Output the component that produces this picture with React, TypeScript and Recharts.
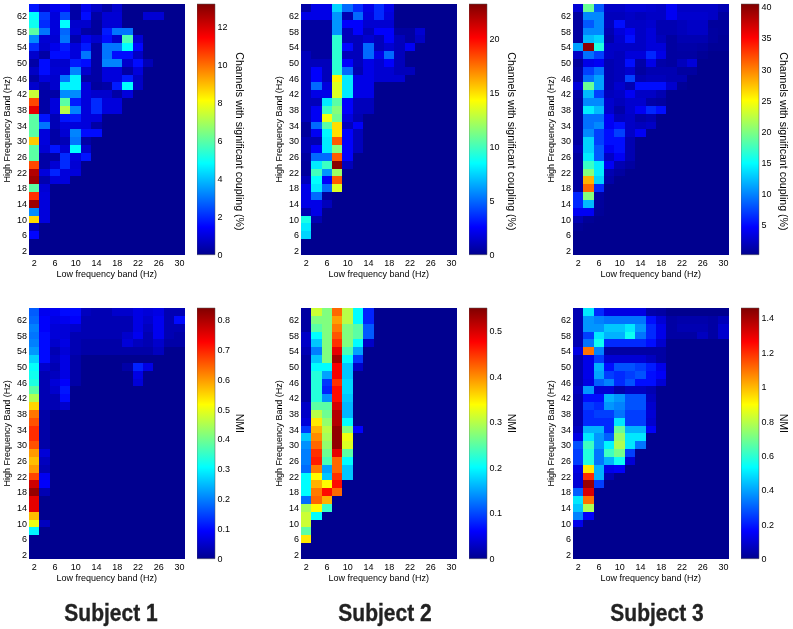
import React from 'react';
import { ScatterChart, Scatter, XAxis, YAxis, BarChart, Bar } from 'recharts';

const lowBands = [2, 4, 6, 8, 10, 12, 14, 16, 18, 20, 22, 24, 26, 28, 30];
const highBands = [64, 62, 60, 58, 56, 54, 52, 50, 48, 46, 44, 42, 40, 38, 36, 34, 32, 30, 28, 26, 24, 22, 20, 18, 16, 14, 12, 10, 8, 6, 4, 2];
const lowTicks = [2, 6, 10, 14, 18, 22, 26, 30];
const highTicks = [2, 6, 10, 14, 18, 22, 26, 30, 34, 38, 42, 46, 50, 54, 58, 62];

// rows run from 64 Hz down to 2 Hz, missing cells on the right are 0
const subject1Coupling = [
  [1.7, 0.8, 1.2, 1.5, 0.3, 1.2, 0.7, 0.3, 0.8],
  [4.8, 2.2, 1, 2.4, 0.3, 1.6, 0.3, 0.9, 0.9, 0, 0, 0.9, 0.9],
  [5, 2, 1, 4.8, 0.8, 0.8, 0.2, 0.9, 0.9],
  [6, 3, 1, 2.8, 0.9, 0.3, 0.2, 1.8, 3, 3],
  [3.3, 0.9, 0.9, 3, 0.4, 1.2, 0.8, 1.6, 0.8, 5.8, 0.9],
  [2, 0.8, 1.2, 1.8, 1, 1.8, 0.3, 3, 3, 4.8, 1.5],
  [0.8, 0.3, 1.6, 1.6, 1, 3, 0.3, 3, 1.6, 1.6, 0.7],
  [0.3, 1.6, 0.8, 0.8, 1.8, 1.6, 0.3, 3.2, 3.2, 0.8, 1.6, 0.5],
  [0.7, 1.6, 0.9, 0.9, 3.2, 0.8, 0.3, 1, 1, 0.3, 1],
  [0.3, 1, 0.8, 3, 4.7, 0.3, 0.3, 1, 1, 1.8, 0.7],
  [0.8, 0.4, 0.8, 4.7, 4.7, 1, 0.2, 0.3, 1.8, 4.8, 0.7],
  [7.4, 0.3, 0.3, 3.3, 3.3, 1, 0.8, 0.8, 0.3, 1],
  [10.5, 0.3, 1, 6, 1.8, 1, 2, 1, 1],
  [11.8, 0.3, 1, 7.2, 3.2, 1, 2, 1, 1],
  [6, 1.7, 0.5, 1.7, 1.8, 1, 1],
  [6, 3, 0.5, 1, 1, 1, 0.3],
  [6, 1, 0.3, 0.9, 3.2, 1.6, 1.6],
  [8.8, 1, 0.3, 0.5, 3, 0.3],
  [6, 0.9, 1.7, 0.9, 4.8, 0.8],
  [6, 0.3, 0.3, 2, 1, 1.7],
  [10.5, 0.3, 0.9, 2, 0.9],
  [12.5, 1, 1.9, 1, 1],
  [12.8, 0.4, 1, 1],
  [6, 0.9],
  [10.8, 1],
  [12.8, 1],
  [3.3, 1],
  [8.6, 1],
  [0.6],
  [1.5],
  [],
  [],
];

const subject2Coupling = [
  [0.5, 2, 2, 7.5, 5, 3.5, 2, 3.5, 2],
  [2, 2, 2, 6, 0.8, 5, 1.8, 3.5, 1.8],
  [0.4, 0.4, 0.4, 6, 2.5, 2.5, 1.5, 1.5, 1.5],
  [0.4, 0.4, 0.4, 6, 1, 2.5, 1, 2.5, 2.5, 0.4, 0.4, 1.5],
  [0.4, 0.4, 0.4, 9.5, 1, 1, 1.5, 1, 2.5, 1, 0.4, 1.2],
  [0.4, 0.4, 0.4, 9.5, 2.7, 1, 5, 1, 1.5, 1, 2.3],
  [1, 0.4, 0.4, 9.5, 1, 1, 5, 2, 5, 1],
  [1, 1, 1, 9.5, 2.5, 1, 2, 1.5, 2.5, 1],
  [1, 2.5, 1, 9.5, 5, 0.8, 2, 1.5, 1.5, 1, 1],
  [1, 2.5, 1, 14.5, 8, 2, 2, 1.5, 1.5, 1.5],
  [1, 5, 1.8, 13.5, 8, 2, 2],
  [1, 2, 2, 13.5, 8, 2, 2],
  [1, 1, 8, 10.5, 2.5, 1, 1],
  [1, 2.3, 9.8, 11.5, 2.5, 1, 1],
  [1, 2.3, 14, 11, 1.8, 0.8],
  [0.3, 5, 10.5, 15, 1, 2.4],
  [0.3, 2.3, 8.3, 15, 2.5, 1],
  [0.8, 0.8, 8, 18, 2.5, 1],
  [0.8, 2.5, 8, 11.5, 2.5, 1],
  [0.4, 5, 5, 18, 2.5],
  [0.3, 8, 9.8, 23, 1],
  [0.3, 10, 6, 12],
  [1, 8.5, 2.5, 18],
  [2, 8, 5, 13.5],
  [2, 5, 0.3],
  [2, 2, 1],
  [0.8, 2],
  [9, 0.8],
  [8],
  [7.5],
  [],
  [],
];

const subject3Coupling = [
  [2.8, 19, 8, 2.2, 2.2, 2.8, 2.8, 2.5, 2.2, 4, 2.2, 2.2, 2.2, 2.2, 1.4],
  [0.7, 10, 10, 1.8, 1.8, 2.2, 1.8, 2.2, 2.2, 4, 2.5, 2.5, 2.5, 2.2, 0.7],
  [0.7, 8, 10, 1.8, 5, 2.2, 2.2, 2.5, 1.4, 1.4, 1.8, 2.2, 2.2, 0.5, 0.5],
  [0.7, 10, 10, 1.4, 3, 4, 2.2, 3, 1.4, 1.4, 1.8, 2.2, 2.2, 0.7, 0.5],
  [0.7, 12, 13, 1, 2.5, 5, 2.2, 3, 1.8, 0.7, 1.4, 1.4, 1.4, 0.7, 0.3],
  [11, 40, 16, 2.2, 2.2, 2.2, 2.2, 3, 3, 0.7, 1, 1, 0.8, 0.3, 0.3],
  [2.2, 9, 7, 2.2, 1.8, 3, 3, 6, 3.5, 0.7, 0.8, 0.8, 0.3],
  [0.5, 3.5, 4, 1.4, 1.8, 5, 1, 3.5, 1, 0.7, 1.8, 3],
  [1, 7, 9, 1.4, 1.8, 2.5, 0.7, 1.4, 1.4, 1.4, 0.7, 0.7],
  [1, 9, 11, 1.4, 1.8, 7, 1.4, 1.8, 1.8, 1.4, 1.4],
  [3, 19, 11, 1.4, 2.5, 1.4, 5, 5, 5, 2.5, 0.3],
  [1, 12, 7, 1.8, 2.2, 4, 2.2, 2.2, 1.4],
  [0.7, 10, 10, 2.5, 1.8, 2.5, 2.5, 1, 0.7],
  [0.7, 14, 12, 2.5, 1, 2.5, 4, 6, 5],
  [0.7, 9, 9, 4, 1.8, 2.2, 1, 1.4],
  [0.7, 9, 10, 4, 5, 2.2, 1.8, 2.2],
  [0.7, 10, 7, 5, 7, 2.2, 4],
  [0.7, 13, 7, 5, 5, 1.4],
  [1.4, 13, 8, 4, 5, 1.4],
  [0.7, 14, 8, 2.2, 4, 1.4],
  [0.7, 17, 14, 4, 1.4, 0.7],
  [0.7, 20, 14, 1.4, 0.7],
  [0.7, 28, 13, 1],
  [0.7, 31, 6],
  [6, 20, 0.7],
  [6, 12, 0.5],
  [4, 4, 0.4],
  [1.4, 0.3],
  [0.3],
  [],
  [],
  [],
];

const subject1Nmi = [
  [0.17, 0.08, 0.08, 0.1, 0.1, 0.04, 0.03, 0.03, 0.05, 0.05, 0.07, 0.06, 0.07, 0.03, 0.03],
  [0.18, 0.09, 0.07, 0.08, 0.09, 0.03, 0.03, 0.03, 0.03, 0.03, 0.07, 0.05, 0.08, 0.03, 0.1],
  [0.2, 0.09, 0.06, 0.06, 0.05, 0.03, 0.03, 0.03, 0.03, 0.03, 0.07, 0.04, 0.08, 0.03, 0.03],
  [0.19, 0.1, 0.06, 0.06, 0.03, 0.03, 0.03, 0.03, 0.03, 0.05, 0.08, 0.03, 0.08, 0.03, 0.02],
  [0.2, 0.1, 0.05, 0.07, 0.03, 0.02, 0.02, 0.02, 0.02, 0.06, 0.04, 0.03, 0.05, 0.02, 0.02],
  [0.22, 0.1, 0.03, 0.06, 0.03, 0.02, 0.02, 0.02, 0.02, 0.02, 0.02, 0.02, 0.04],
  [0.27, 0.1, 0.04, 0.07, 0.02],
  [0.31, 0.05, 0.03, 0.07, 0.02, 0, 0, 0, 0, 0.02, 0.12, 0.07],
  [0.32, 0.03, 0.04, 0.07, 0.02, 0, 0, 0, 0, 0, 0.07],
  [0.33, 0.03, 0.06, 0.09, 0.02, 0, 0, 0, 0, 0, 0.06],
  [0.38, 0.03, 0.05, 0.11],
  [0.45, 0.03, 0.03, 0.1],
  [0.55, 0.03, 0.03, 0.05],
  [0.63, 0.02],
  [0.66, 0.02],
  [0.69, 0.02],
  [0.69, 0.02],
  [0.66, 0.02],
  [0.6, 0.06],
  [0.57, 0.04],
  [0.6, 0.03],
  [0.67, 0.08],
  [0.77, 0.09],
  [0.82, 0.03],
  [0.75],
  [0.75],
  [0.57],
  [0.5, 0.04],
  [0.3],
  [],
  [],
  [],
];

const subject2Nmi = [
  [0.01, 0.31, 0.27, 0.42, 0.3, 0.2, 0.08],
  [0.01, 0.27, 0.27, 0.39, 0.3, 0.2, 0.08],
  [0.01, 0.25, 0.27, 0.41, 0.27, 0.25, 0.11],
  [0.03, 0.2, 0.27, 0.43, 0.27, 0.25, 0.11],
  [0.03, 0.17, 0.27, 0.45, 0.27, 0.2, 0.03],
  [0.02, 0.13, 0.27, 0.49, 0.24, 0.15],
  [0.01, 0.17, 0.27, 0.53, 0.2, 0.09],
  [0.01, 0.2, 0.2, 0.48, 0.17, 0.03],
  [0.01, 0.22, 0.15, 0.48, 0.17],
  [0.01, 0.22, 0.09, 0.45, 0.18],
  [0.01, 0.22, 0.08, 0.47, 0.18],
  [0.01, 0.22, 0.14, 0.47, 0.17],
  [0.03, 0.25, 0.25, 0.5, 0.16],
  [0.03, 0.3, 0.26, 0.52, 0.16],
  [0.04, 0.35, 0.28, 0.52, 0.2],
  [0.09, 0.38, 0.3, 0.54, 0.27, 0.06],
  [0.17, 0.4, 0.29, 0.54, 0.33],
  [0.14, 0.42, 0.28, 0.54, 0.32],
  [0.13, 0.45, 0.26, 0.49, 0.25],
  [0.13, 0.46, 0.24, 0.42, 0.2],
  [0.12, 0.41, 0.15, 0.42, 0.17],
  [0.2, 0.34, 0.17, 0.45, 0.17],
  [0.2, 0.38, 0.34, 0.47],
  [0.2, 0.41, 0.47, 0.42],
  [0.12, 0.42, 0.38],
  [0.29, 0.34, 0.23],
  [0.31, 0.2],
  [0.31],
  [0.25],
  [0.35],
  [],
  [],
];

const subject3Nmi = [
  [0.05, 0.5, 0.22, 0.12, 0.12, 0.12, 0.12, 0.04, 0.03],
  [0.05, 0.38, 0.35, 0.33, 0.33, 0.33, 0.33, 0.18, 0.1, 0.03, 0.04, 0.04, 0.04, 0.03, 0.06],
  [0.05, 0.38, 0.38, 0.45, 0.45, 0.5, 0.38, 0.22, 0.13, 0.03, 0.05, 0.05, 0.05, 0.03, 0.09],
  [0.05, 0.25, 0.5, 0.42, 0.42, 0.55, 0.33, 0.22, 0.13, 0.03, 0.03, 0.03, 0.07, 0.03, 0.09],
  [0.05, 0.33, 0.55, 0.22, 0.22, 0.22, 0.22, 0.18, 0.09],
  [0.12, 1.1, 0.35, 0.03, 0.03, 0.03, 0.03, 0.03, 0.03],
  [0.05, 0.13, 0.25, 0.1, 0.1, 0.1, 0.1, 0.07, 0.03],
  [0.05, 0.13, 0.42, 0.18, 0.28, 0.28, 0.25, 0.2, 0.13],
  [0.05, 0.13, 0.4, 0.25, 0.22, 0.25, 0.28, 0.18, 0.15],
  [0.05, 0.12, 0.3, 0.35, 0.22, 0.28, 0.18, 0.18, 0.1],
  [0.07, 0.38, 0.1, 0.1, 0.04, 0.07, 0.07, 0.05],
  [0.05, 0.18, 0.18, 0.42, 0.38, 0.28, 0.28, 0.07],
  [0.05, 0.25, 0.22, 0.38, 0.35, 0.28, 0.28, 0.09],
  [0.05, 0.22, 0.25, 0.25, 0.33, 0.25, 0.25, 0.1],
  [0.05, 0.22, 0.22, 0.22, 0.5, 0.25, 0.25, 0.09],
  [0.07, 0.42, 0.42, 0.22, 0.68, 0.42, 0.42, 0.15],
  [0.12, 0.5, 0.38, 0.3, 0.75, 0.5, 0.5],
  [0.28, 0.62, 0.38, 0.52, 0.78, 0.5, 0.33],
  [0.25, 0.58, 0.33, 0.62, 0.7, 0.25],
  [0.25, 0.58, 0.33, 0.42, 0.55, 0.1],
  [0.12, 0.93, 0.42, 0.13, 0.15],
  [0.1, 1.2, 0.42, 0.05],
  [0.1, 1.42, 0.25],
  [0.3, 1.32],
  [0.5, 1.1],
  [0.45, 0.78],
  [0.35, 0.15],
  [0.13],
  [],
  [],
  [],
  [],
];

const couplingLabel = 'Channels with significant coupling (%)';
const FONT = '"Liberation Sans", Arial, sans-serif';
const TEXT = '#000';

const PLOT_W = 155.6;
const PLOT_H = 250.7;
const CELL_W = PLOT_W / lowBands.length;
const CELL_H = PLOT_H / highBands.length;
const LEFT = 30;
const BAR_W = 18.4;

const jetStops: [number, number[]][] = [
  [0, [0, 0, 143]],
  [0.11, [0, 0, 255]],
  [0.365, [0, 255, 255]],
  [0.615, [255, 255, 0]],
  [0.865, [255, 0, 0]],
  [1, [128, 0, 0]],
];

const jet = (t: number) => {
  const v = Math.min(1, Math.max(0, t));
  for (let i = 1; i < jetStops.length; i++) {
    const [p0, c0] = jetStops[i - 1];
    const [p1, c1] = jetStops[i];
    if (v <= p1) {
      const k = (v - p0) / (p1 - p0);
      return `rgb(${c0.map((c, j) => Math.round(c + (c1[j] - c) * k)).join(',')})`;
    }
  }
  return 'rgb(128,0,0)';
};

const toCells = (rows: number[][]) =>
  rows.flatMap((row, r) => lowBands.map((low, c) => ({ low, high: highBands[r], value: row[c] ?? 0 })));

type PanelProps = {
  id: string;
  x: number;
  y: number;
  rows: number[][];
  min: number;
  max: number;
  ticks: number[];
  label: string;
  labelShift: number;
};

const tickStyle = { fontSize: 9, fontFamily: FONT, fill: TEXT };
const labelStyle = { fontSize: 9, fontFamily: FONT, fill: TEXT, textAnchor: 'middle' as const };
const barLabelStyle = { ...labelStyle, fontSize: 10.6 };

const Panel = ({ id, x, y, rows, min, max, ticks, label, labelShift }: PanelProps) => {
  const barData = [{ name: label, value: max }];
  return (
    <>
      <div style={{ position: 'absolute', left: x - LEFT, top: y - 4 }}>
        <ScatterChart width={LEFT + PLOT_W + 4} height={PLOT_H + 4 + 30} margin={{ top: 4, right: 4, bottom: 0, left: 0 }}>
          <XAxis
            type="number"
            dataKey="low"
            domain={[1, 31]}
            ticks={lowTicks}
            interval={0}
            height={30}
            axisLine={false}
            tickLine={false}
            tickSize={5}
            tickMargin={0}
            tick={tickStyle}
            label={{ value: 'Low frequency band (Hz)', position: 'insideBottom', offset: 8, style: labelStyle }}
          />
          <YAxis
            type="number"
            dataKey="high"
            domain={[1, 65]}
            ticks={highTicks}
            interval={0}
            width={LEFT}
            axisLine={false}
            tickLine={false}
            tickSize={2}
            tickMargin={0}
            tick={tickStyle}
            label={{ value: 'High Frequency Band (Hz)', angle: -90, position: 'insideLeft', offset: 8, style: labelStyle }}
          />
          <Scatter
            data={toCells(rows)}
            isAnimationActive={false}
            shape={(p: any) => (
              <rect
                x={p.cx - CELL_W / 2}
                y={p.cy - CELL_H / 2}
                width={CELL_W + 0.6}
                height={CELL_H + 0.6}
                shapeRendering="crispEdges"
                fill={jet(p.payload.value / max)}
              />
            )}
          />
        </ScatterChart>
      </div>
      <div style={{ position: 'absolute', left: x + 168.6, top: y - 4 }}>
        <BarChart
          width={BAR_W + 50}
          height={PLOT_H + 8}
          data={barData}
          barCategoryGap={0}
          margin={{ top: 4, right: 0, bottom: 4, left: 0 }}
        >
          <defs>
            <linearGradient id={id} x1="0" y1="1" x2="0" y2="0">
              {jetStops.map(([p, c]) => (
                <stop key={p} offset={p} stopColor={`rgb(${c.join(',')})`} />
              ))}
            </linearGradient>
          </defs>
          <XAxis dataKey="name" hide />
          <YAxis
            orientation="right"
            type="number"
            domain={[min, max]}
            ticks={ticks}
            interval={0}
            width={50}
            axisLine={false}
            tickLine={false}
            tickSize={0}
            tickMargin={2}
            tick={tickStyle}
            label={{ value: label, angle: 90, position: 'insideRight', offset: 25.7, dy: labelShift, style: barLabelStyle }}
          />
          <Bar dataKey="value" fill={`url(#${id})`} stroke="#555" strokeWidth={0.5} isAnimationActive={false} />
        </BarChart>
      </div>
    </>
  );
};

const Title = ({ text, x }: { text: string; x: number }) => (
  <div
    style={{
      position: 'absolute',
      left: x - 80,
      top: 599,
      width: 160,
      textAlign: 'center',
      fontFamily: FONT,
      fontWeight: 'bold',
      fontSize: 21,
      lineHeight: '28px',
      color: '#222',
      WebkitTextStroke: '0.3px #222',
      transform: 'scaleY(1.12)',
    }}
  >
    {text}
  </div>
);

export default function App() {
  return (
    <div style={{ position: 'absolute', left: 0, top: 0, width: 793, height: 629, background: '#fff', overflow: 'hidden', filter: 'blur(0.4px)' }}>
      <Panel id="c1" x={28.7} y={4.3} rows={subject1Coupling} min={0} max={13.2} ticks={[0, 2, 4, 6, 8, 10, 12]} label={couplingLabel} labelShift={12} />
      <Panel id="c2" x={300.7} y={4.3} rows={subject2Coupling} min={0} max={23.2} ticks={[0, 5, 10, 15, 20]} label={couplingLabel} labelShift={12} />
      <Panel id="c3" x={572.7} y={4.3} rows={subject3Coupling} min={0.2} max={40.5} ticks={[5, 10, 15, 20, 25, 30, 35, 40]} label={couplingLabel} labelShift={12} />
      <Panel id="n1" x={28.7} y={307.7} rows={subject1Nmi} min={0} max={0.84} ticks={[0, 0.1, 0.2, 0.3, 0.4, 0.5, 0.6, 0.7, 0.8]} label="NMI" labelShift={-10} />
      <Panel id="n2" x={300.7} y={307.7} rows={subject2Nmi} min={0} max={0.55} ticks={[0, 0.1, 0.2, 0.3, 0.4, 0.5]} label="NMI" labelShift={-10} />
      <Panel id="n3" x={572.7} y={307.7} rows={subject3Nmi} min={0} max={1.46} ticks={[0, 0.2, 0.4, 0.6, 0.8, 1, 1.2, 1.4]} label="NMI" labelShift={-10} />
      <Title text="Subject 1" x={111} />
      <Title text="Subject 2" x={385} />
      <Title text="Subject 3" x={657} />
    </div>
  );
}
